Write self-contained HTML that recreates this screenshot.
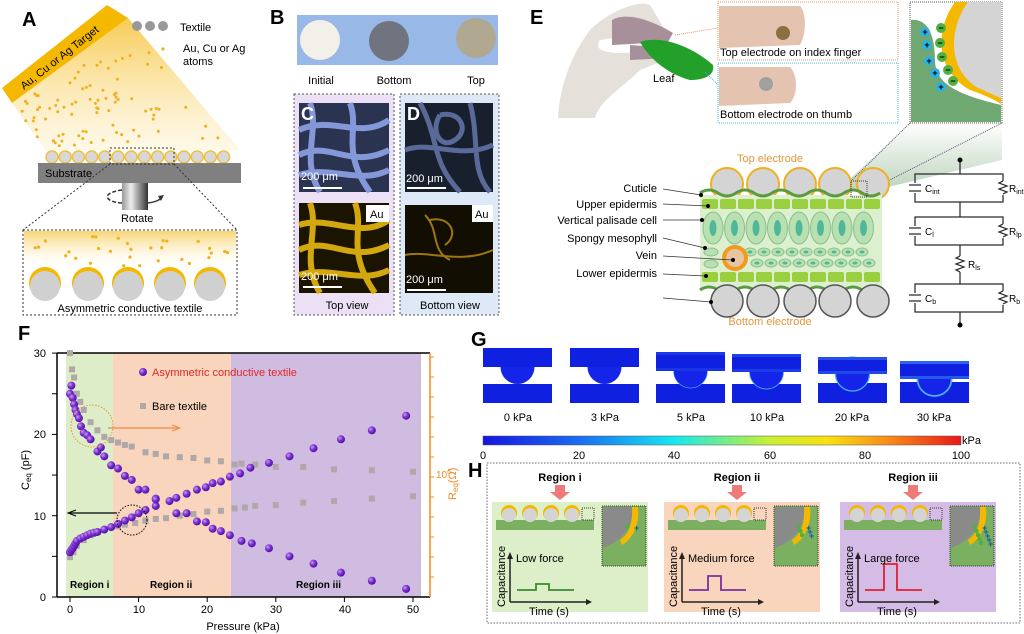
<!DOCTYPE html>
<html><head><meta charset="utf-8"><style>
html,body{margin:0;padding:0;background:#fff}
svg{display:block;font-family:"Liberation Sans",sans-serif}
</style></head><body>
<svg id="s" width="1024" height="634" viewBox="0 0 1024 634" xmlns="http://www.w3.org/2000/svg">
<defs>
<linearGradient id="cone" x1="0" y1="0" x2="0" y2="1"><stop offset="0" stop-color="#f6c234" stop-opacity=".85"/><stop offset="1" stop-color="#fbe8b0" stop-opacity=".3"/></linearGradient>
<linearGradient id="ins" x1="0" y1="0" x2="0" y2="1"><stop offset="0" stop-color="#f8d571"/><stop offset="1" stop-color="#fff" stop-opacity="0"/></linearGradient>
<linearGradient id="shaft" x1="0" y1="0" x2="1" y2="0"><stop offset="0" stop-color="#999"/><stop offset=".35" stop-color="#eee"/><stop offset="1" stop-color="#333"/></linearGradient>
<linearGradient id="cb" x1="0" y1="0" x2="1" y2="0"><stop offset="0" stop-color="#1515e0"/><stop offset=".2" stop-color="#1a6cf0"/><stop offset=".4" stop-color="#16e8f0"/><stop offset=".6" stop-color="#c8f030"/><stop offset=".72" stop-color="#f8e010"/><stop offset=".85" stop-color="#f88a18"/><stop offset="1" stop-color="#e81818"/></linearGradient>
<radialGradient id="pb" cx=".35" cy=".35" r=".7"><stop offset="0" stop-color="#c89af0"/><stop offset=".5" stop-color="#7a2fd0"/><stop offset="1" stop-color="#4a0ea0"/></radialGradient>
<linearGradient id="beam" x1="0" y1="0" x2="0" y2="1"><stop offset="0" stop-color="#fff"/><stop offset="1" stop-color="#6f9f6f"/></linearGradient>
</defs>

<!-- ===== A ===== -->
<text x="22" y="26" font-size="20" font-weight="bold">A</text>
<polygon points="12,103 128,18 240,150 45,150" fill="url(#cone)"/>
<polygon points="2,88 107,5 128,18 12,103" fill="#f5b800"/>
<text x="0" y="0" font-size="11" transform="translate(24,90) rotate(-38)">Au, Cu or Ag Target</text>
<g id="atomsA" fill="#f0b020"></g>
<circle cx="137" cy="26" r="5" fill="#999"/><circle cx="150" cy="26" r="5" fill="#999"/><circle cx="163" cy="26" r="5" fill="#999"/>
<text x="180" y="31" font-size="11">Textile</text>
<circle cx="163" cy="49" r="1.6" fill="#f0b020"/>
<text x="183" y="52" font-size="11">Au, Cu or Ag</text><text x="183" y="65" font-size="11">atoms</text>
<g id="circA"></g>
<rect x="38" y="163" width="203" height="20" fill="#808080"/>
<text x="45" y="177" font-size="11">Substrate</text>
<rect x="110" y="148" width="64" height="16" fill="none" stroke="#333" stroke-dasharray="2,2"/>
<line x1="110" y1="164" x2="23" y2="230" stroke="#333" stroke-dasharray="2,2"/>
<line x1="174" y1="164" x2="237" y2="230" stroke="#333" stroke-dasharray="2,2"/>
<rect x="122" y="183" width="26" height="27" fill="url(#shaft)"/>
<path d="M122,190 C100,193 105,202 122,203" fill="none" stroke="#333" stroke-width="1.5" stroke-dasharray="4,2"/>
<path d="M148,203 C156,202 160,200 162,197" fill="none" stroke="#333" stroke-width="1.5"/><path d="M158,196 L164,195 L161,201Z" fill="#333"/>
<text x="121" y="222" font-size="11">Rotate</text>
<rect x="23" y="230" width="214" height="85" fill="none" stroke="#333" stroke-dasharray="2,2"/>
<rect x="24" y="231" width="212" height="40" fill="url(#ins)"/>
<g id="atomsIns" fill="#f0b020"></g>
<g id="circIns"></g>
<text x="130" y="312" font-size="11" text-anchor="middle">Asymmetric conductive textile</text>

<!-- ===== B ===== -->
<text x="270" y="24" font-size="20" font-weight="bold">B</text>
<rect x="297" y="15" width="201" height="50" fill="#98b8e8"/>
<circle cx="320" cy="40" r="20" fill="#f2f0e8"/>
<circle cx="389" cy="41" r="20" fill="#70747e"/>
<circle cx="476" cy="38" r="20" fill="#b0a890"/>
<text x="321" y="84" font-size="11" text-anchor="middle">Initial</text>
<text x="394" y="84" font-size="11" text-anchor="middle">Bottom</text>
<text x="476" y="84" font-size="11" text-anchor="middle">Top</text>
<rect x="294" y="94" width="100" height="221" fill="#ebe0f5" stroke="#555" stroke-dasharray="2,2"/>
<rect x="400" y="94" width="99" height="221" fill="#dde9f6" stroke="#555" stroke-dasharray="2,2"/>
<rect x="299" y="103" width="90" height="89" fill="#2a3350"/>
<g stroke="#8ea4e8" stroke-width="6" fill="none" opacity=".9">
<path d="M299,130 C330,115 360,140 389,120"/><path d="M299,155 C330,140 350,170 389,150"/><path d="M310,103 C320,130 300,160 320,192"/><path d="M299,175 C330,165 360,185 389,170"/><path d="M350,103 C360,130 340,150 370,192"/></g>
<rect x="299" y="203" width="90" height="90" fill="#1a1400"/>
<g stroke="#e8b810" stroke-width="6" fill="none" opacity=".9">
<path d="M299,225 C330,215 360,240 389,220"/><path d="M299,250 C330,235 350,265 389,245"/><path d="M310,203 C320,230 300,260 320,293"/><path d="M299,275 C330,265 360,285 389,270"/><path d="M355,203 C365,230 345,250 375,293"/></g>
<rect x="405" y="103" width="88" height="89" fill="#18202e"/>
<g stroke="#5a6a98" stroke-width="5" fill="none">
<path d="M420,103 C440,140 430,160 460,192"/><path d="M440,115 C460,110 470,130 455,140 C440,150 430,130 440,115"/><path d="M405,150 C430,140 460,160 493,145"/><path d="M470,103 C480,140 470,170 490,192"/></g>
<rect x="405" y="205" width="88" height="88" fill="#120e02"/>
<g stroke="#c09010" stroke-width="2" fill="none" opacity=".8">
<path d="M425,215 C440,230 430,250 450,260"/><path d="M405,255 C430,250 460,265 493,250"/><path d="M430,220 C450,215 460,235 445,245"/></g>
<text x="301" y="120" font-size="18" font-weight="bold" fill="#fff">C</text>
<text x="407" y="120" font-size="18" font-weight="bold" fill="#fff">D</text>
<rect x="366" y="205" width="23" height="17" fill="#fff"/><text x="370" y="218" font-size="11">Au</text>
<rect x="472" y="205" width="21" height="17" fill="#fff"/><text x="475" y="218" font-size="11">Au</text>
<g font-size="11" fill="#fff"><text x="301" y="180">200 μm</text><text x="406" y="182">200 μm</text><text x="301" y="280">200 μm</text><text x="406" y="283">200 μm</text></g>
<g stroke="#fff" stroke-width="2"><line x1="303" y1="188" x2="342" y2="188"/><line x1="407" y1="188" x2="446" y2="188"/><line x1="303" y1="287" x2="342" y2="287"/><line x1="407" y1="290" x2="446" y2="290"/></g>
<text x="347" y="309" font-size="11" text-anchor="middle">Top view</text>
<text x="450" y="309" font-size="11" text-anchor="middle">Bottom view</text>

<!-- ===== E ===== -->
<text x="530" y="24" font-size="20" font-weight="bold">E</text>
<path d="M558,118 C560,80 575,50 590,30 C610,10 640,0 650,5 L665,30 L600,40 C590,55 620,55 660,50 L660,62 L640,70 C620,90 600,100 595,118 Z" fill="#e6e0da"/>
<path d="M612,20 C630,10 660,25 673,33 L668,42 L612,45Z" fill="#a8909a"/>
<path d="M630,45 L672,48 L670,58 L630,60Z" fill="#a8909a"/>
<path d="M640,42 C660,35 690,45 713,65 C715,75 705,80 690,80 C670,75 650,60 640,42Z" fill="#22a02a"/>
<text x="653" y="82" font-size="11">Leaf</text>
<line x1="675" y1="35" x2="718" y2="28" stroke="#e89060" stroke-dasharray="1,1"/>
<line x1="705" y1="72" x2="718" y2="85" stroke="#40b8d8" stroke-dasharray="1,1"/>
<rect x="718" y="2" width="180" height="58" fill="#fff" stroke="#e89a60" stroke-dasharray="1,1"/>
<path d="M719,6 L800,6 C805,10 808,30 800,45 L719,48Z" fill="#e4c4b0"/>
<circle cx="783" cy="33" r="7" fill="#8a7040"/>
<text x="720" y="56" font-size="11">Top electrode on index finger</text>
<rect x="718" y="63" width="180" height="60" fill="#fff" stroke="#40b8d8" stroke-dasharray="1,1"/>
<path d="M719,67 L790,67 C798,75 798,95 790,103 L719,106Z" fill="#e4c4b0"/>
<circle cx="766" cy="84" r="7" fill="#a0a0a0"/>
<text x="720" y="118" font-size="11">Bottom electrode on thumb</text>
<polygon points="910,123 1002,123 1002,160 875,190 840,188" fill="url(#beam)" opacity=".45"/>
<line x1="910" y1="123" x2="850" y2="182" stroke="#557" stroke-dasharray="1,1"/>
<line x1="1002" y1="123" x2="870" y2="190" stroke="#557" stroke-dasharray="1,1"/>
<rect x="910" y="2" width="92" height="121" fill="#fff" stroke="#555" stroke-dasharray="1,1"/>
<path d="M911,20 C930,18 935,40 935,60 C935,85 960,95 1001,105 L1001,122 L911,122Z" fill="#6fa870"/>
<path d="M955,2 C935,30 935,70 970,90 C985,95 995,100 1001,104 L1001,2Z" fill="#f5b800"/>
<path d="M968,2 C948,30 948,70 978,88 C988,92 995,96 1001,98 L1001,2Z" fill="#d4d4d4"/>
<g font-size="9" font-weight="bold" text-anchor="middle">
<g fill="#30b0e0"><circle cx="925" cy="32" r="5"/><circle cx="927" cy="45" r="5"/><circle cx="929" cy="61" r="5"/><circle cx="935" cy="73" r="5"/><circle cx="941" cy="87" r="5"/></g>
<g fill="#50b040"><circle cx="941" cy="28" r="5"/><circle cx="940" cy="43" r="5"/><circle cx="942" cy="57" r="5"/><circle cx="948" cy="70" r="5"/><circle cx="953" cy="81" r="5"/></g>
<text x="925" y="35">+</text><text x="927" y="48">+</text><text x="929" y="64">+</text><text x="935" y="76">+</text><text x="941" y="90">+</text>
<text x="941" y="31">−</text><text x="940" y="46">−</text><text x="942" y="60">−</text><text x="948" y="73">−</text><text x="953" y="84">−</text></g>
<text x="770" y="162" font-size="11" fill="#e8963a" text-anchor="middle">Top electrode</text>
<g id="topE"></g>
<rect x="700" y="195" width="182" height="93" fill="#dcf0d0"/>
<g id="cells"></g>
<circle cx="735" cy="258" r="13" fill="#f09a20"/><circle cx="735" cy="258" r="9" fill="#e8c4a0"/>
<path d="M700,193 q9,-6 18,0 t18,0 t18,0 t18,0 t18,0 t18,0 t18,0 t18,0 t18,0 t18,0" fill="none" stroke="#5a9a40" stroke-width="3"/>
<path d="M700,290 q9,-6 18,0 t18,0 t18,0 t18,0 t18,0 t18,0 t18,0 t18,0 t18,0 t18,0" fill="none" stroke="#5a9a40" stroke-width="3"/>
<rect x="851" y="181" width="16" height="16" fill="none" stroke="#333" stroke-dasharray="1,1"/>
<g id="botE"></g>
<text x="770" y="325" font-size="11" fill="#e8963a" text-anchor="middle">Bottom electrode</text>
<g font-size="11" text-anchor="end">
<text x="657" y="192">Cuticle</text><text x="657" y="208">Upper epidermis</text><text x="657" y="224">Vertical palisade cell</text><text x="657" y="242">Spongy mesophyll</text><text x="657" y="259">Vein</text><text x="657" y="277">Lower epidermis</text></g>
<g stroke="#333" stroke-width=".8">
<line x1="663" y1="189" x2="701" y2="195"/><line x1="663" y1="204" x2="708" y2="206"/><line x1="663" y1="220" x2="702" y2="220"/><line x1="663" y1="238" x2="705" y2="248"/><line x1="663" y1="256" x2="732" y2="260"/><line x1="663" y1="274" x2="706" y2="276"/><line x1="663" y1="298" x2="711" y2="302"/></g>
<g fill="#000"><circle cx="701" cy="195" r="2"/><circle cx="708" cy="206" r="2"/><circle cx="702" cy="220" r="2"/><circle cx="705" cy="248" r="2"/><circle cx="733" cy="260" r="2"/><circle cx="706" cy="276" r="2"/><circle cx="711" cy="302" r="2"/></g>
<g stroke="#222" stroke-width="1.2" fill="none">
<line x1="960" y1="160" x2="960" y2="174"/>
<rect x="915" y="174" width="88" height="28"/><line x1="960" y1="202" x2="960" y2="217"/>
<rect x="915" y="217" width="88" height="28"/><line x1="960" y1="245" x2="960" y2="256"/>
<path d="M960,256 l-4,2 l8,3 l-8,3 l8,3 l-8,3 l4,2"/><line x1="960" y1="272" x2="960" y2="284"/>
<rect x="915" y="284" width="88" height="28"/><line x1="960" y1="312" x2="960" y2="325"/>
</g>
<g fill="#fff"><rect x="910" y="183" width="10" height="10"/><rect x="910" y="226" width="10" height="10"/><rect x="910" y="293" width="10" height="10"/><rect x="998" y="181" width="10" height="14"/><rect x="998" y="224" width="10" height="14"/><rect x="998" y="291" width="10" height="14"/></g>
<g stroke="#222" stroke-width="1.2" fill="none">
<line x1="909" y1="185" x2="921" y2="185"/><line x1="909" y1="191" x2="921" y2="191"/>
<line x1="909" y1="228" x2="921" y2="228"/><line x1="909" y1="234" x2="921" y2="234"/>
<line x1="909" y1="295" x2="921" y2="295"/><line x1="909" y1="301" x2="921" y2="301"/>
<path d="M1003,181 l-4,2 l8,3 l-8,3 l8,3 l-4,2"/><path d="M1003,224 l-4,2 l8,3 l-8,3 l8,3 l-4,2"/><path d="M1003,291 l-4,2 l8,3 l-8,3 l8,3 l-4,2"/></g>
<circle cx="960" cy="160" r="2.5"/><circle cx="960" cy="325" r="2.5"/>
<g font-size="10"><text x="925" y="192">C<tspan font-size="7" dy="2">int</tspan></text><text x="1009" y="192">R<tspan font-size="7" dy="2">int</tspan></text>
<text x="925" y="235">C<tspan font-size="7" dy="2">l</tspan></text><text x="1009" y="235">R<tspan font-size="7" dy="2">lp</tspan></text>
<text x="968" y="268">R<tspan font-size="7" dy="2">ls</tspan></text>
<text x="925" y="302">C<tspan font-size="7" dy="2">b</tspan></text><text x="1009" y="302">R<tspan font-size="7" dy="2">b</tspan></text></g>

<!-- ===== F ===== -->
<text x="18" y="340" font-size="20" font-weight="bold">F</text>
<rect x="66" y="353" width="47" height="244" fill="#dcedc8"/>
<rect x="113" y="353" width="118" height="244" fill="#f8d5bc"/>
<rect x="231" y="353" width="190" height="244" fill="#d0bce0"/>
<line x1="57" y1="353" x2="430" y2="353" stroke="#000" stroke-width="1.5"/>
<line x1="57" y1="597" x2="430" y2="597" stroke="#000" stroke-width="1.5"/>
<line x1="57" y1="353" x2="57" y2="597" stroke="#000" stroke-width="1.5"/>
<line x1="430" y1="353" x2="430" y2="597" stroke="#f08a20" stroke-width="1.5"/>
<g id="rticks" stroke="#f08a20"></g>
<g id="fticks" stroke="#000"></g>
<g font-size="11" text-anchor="end"><text x="46" y="357">30</text><text x="46" y="438">20</text><text x="46" y="520">10</text><text x="46" y="601">0</text></g>
<g font-size="11" text-anchor="middle"><text x="70" y="613">0</text><text x="139" y="613">10</text><text x="207" y="613">20</text><text x="276" y="613">30</text><text x="345" y="613">40</text><text x="413" y="613">50</text></g>
<text x="243" y="630" font-size="11" text-anchor="middle">Pressure (kPa)</text>
<text x="0" y="0" font-size="11" transform="translate(29,490) rotate(-90)">C<tspan font-size="8" dy="2">eq</tspan><tspan dy="-2"> (pF)</tspan></text>
<text x="436" y="478" font-size="10" fill="#f08a20">10<tspan font-size="7" dy="-4">6</tspan></text>
<text x="0" y="0" font-size="11" fill="#f08a20" transform="translate(456,500) rotate(-90)">R<tspan font-size="8" dy="2">eq</tspan><tspan dy="-2">(Ω)</tspan></text>
<g id="pts"></g>
<circle cx="143" cy="372" r="4" fill="url(#pb)"/><text x="152" y="376" font-size="11" fill="#e02828">Asymmetric conductive textile</text>
<rect x="140" y="403" width="6" height="6" fill="#b0a8a8"/><text x="152" y="410" font-size="11">Bare textile</text>
<circle cx="92" cy="426" r="21" fill="none" stroke="#e8963a" stroke-dasharray="1.5,1.5"/>
<line x1="108" y1="428" x2="178" y2="428" stroke="#f08a40" stroke-width="1.2"/><path d="M172,425 L180,428 L172,431" fill="none" stroke="#f08a40"/>
<circle cx="132" cy="520" r="15" fill="none" stroke="#000" stroke-dasharray="1.5,1.5"/>
<line x1="70" y1="513" x2="117" y2="513" stroke="#000" stroke-width="1.2"/><path d="M76,510 L68,513 L76,516" fill="none" stroke="#000"/>
<g font-size="10" font-weight="bold"><text x="70" y="588">Region i</text><text x="150" y="588">Region ii</text><text x="296" y="588">Region iii</text></g>

<!-- ===== G ===== -->
<text x="471" y="346" font-size="20" font-weight="bold">G</text>
<g id="sims"></g>
<g font-size="11" text-anchor="middle"><text x="518" y="421">0 kPa</text><text x="605" y="421">3 kPa</text><text x="691" y="421">5 kPa</text><text x="767" y="421">10 kPa</text><text x="852" y="421">20 kPa</text><text x="934" y="421">30 kPa</text></g>
<rect x="483" y="436" width="478" height="9" fill="url(#cb)" stroke="#555" stroke-width=".5"/>
<text x="962" y="444" font-size="11">kPa</text>
<g font-size="11" text-anchor="middle"><text x="483" y="459">0</text><text x="579" y="459">20</text><text x="674" y="459">40</text><text x="770" y="459">60</text><text x="865" y="459">80</text><text x="961" y="459">100</text></g>

<!-- ===== H ===== -->
<text x="468" y="477" font-size="20" font-weight="bold">H</text>
<rect x="487" y="463" width="533" height="160" fill="none" stroke="#666" stroke-dasharray="1.5,1.5"/>
<g id="hp"></g>
</svg>
<script>
const NS="http://www.w3.org/2000/svg";
function el(p,t,a){const e=document.createElementNS(NS,t);for(const k in a)e.setAttribute(k,a[k]);p.appendChild(e);return e;}
const $=id=>document.getElementById(id);
let seed=7;const rnd=()=>{seed=(seed*9301+49297)%233280;return seed/233280;};
// atoms inside cone
for(let i=0;i<85;i++){const u=rnd(),v=0.08+rnd()*0.85;
 const tx=12+u*116,ty=103-u*85,bx=45+u*195,by=150;
 el($("atomsA"),"circle",{cx:tx+(bx-tx)*v,cy:ty+(by-ty)*v,r:1.5});}
for(let i=0;i<14;i++)el($("circA"),"circle",{cx:52+i*13.2,cy:157,r:6,fill:"#d8d8d8",stroke:"#f0c040","stroke-width":1.5});
for(let i=0;i<30;i++)el($("atomsIns"),"circle",{cx:28+rnd()*205,cy:236+rnd()*30,r:1.6});
[45,88,128,170,210].forEach(x=>{el($("circIns"),"circle",{cx:x,cy:283,r:16,fill:"#f5b800"});el($("circIns"),"circle",{cx:x,cy:286,r:15,fill:"#d0d0d0"});});
[727,763,800,835,873].forEach(x=>{el($("topE"),"circle",{cx:x,cy:184,r:16,fill:"#d4d4d4",stroke:"#f0b020","stroke-width":2});el($("botE"),"circle",{cx:x,cy:301,r:16,fill:"#d4d4d4",stroke:"#555","stroke-width":1.5});});
const c=$("cells");
for(let i=0;i<10;i++){el(c,"rect",{x:702+i*18,y:199,width:16,height:10,rx:2,fill:"#9ad040"});el(c,"rect",{x:702+i*18,y:272,width:16,height:10,rx:2,fill:"#9ad040"});}
for(let i=0;i<8;i++){const x=713+i*21.5;el(c,"ellipse",{cx:x,cy:228,rx:10,ry:16,fill:"#b8e0b0",stroke:"#8cc08c"});el(c,"ellipse",{cx:x,cy:228,rx:3.5,ry:8,fill:"#50b898"});}
for(let r=0;r<2;r++)for(let i=0;i<9;i++){const x=750+i*14+(r?7:0),y=252+r*11;el(c,"ellipse",{cx:x,cy:y,rx:6,ry:4,fill:"#b8e0b0",stroke:"#8cc08c"});el(c,"ellipse",{cx:x,cy:y,rx:2.5,ry:1.5,fill:"#50b898"});}
el(c,"ellipse",{cx:711,cy:252,rx:7,ry:4,fill:"#b8e0b0",stroke:"#8cc08c"});el(c,"ellipse",{cx:711,cy:264,rx:7,ry:4,fill:"#b8e0b0",stroke:"#8cc08c"});
for(let v=0;v<=30;v+=5){const y=597-v*8.13;el($("fticks"),"line",{x1:52,y1:y,x2:57,y2:y});}
for(let p=0;p<=50;p+=10){const x=70+p*6.86;el($("fticks"),"line",{x1:x,y1:597,x2:x,y2:602});}
for(let i=0;i<12;i++){const y=357+i*20;el($("rticks"),"line",{x1:430,y1:y,x2:434,y2:y});}
const X=p=>70+p*6.86,Y=v=>597-v*8.13;
const gd=[[0,30],[.3,28],[.6,27],[1,25],[1.5,24],[2,23],[3,21.5],[4,20.5],[5,19.7],[6,19.3],[7,19],[8,18.7],[9,18.5],[11,17.8],[12.5,17.6],[14,17.3],[16,17.2],[18,17.1],[20,16.8],[22,16.7],[24,16.3],[25,16.4],[27,16.3],[30,16],[34,16],[38.5,15.7],[44,15.6],[50,15.4]];
const gu=[[0,4.9],[.5,5.5],[1,6.3],[2,7],[3,7.6],[4,8],[5,8.3],[6,8.6],[7,8.7],[8,8.9],[9.5,9.1],[11,9.4],[12.5,9.6],[14,9.7],[16,10],[18,10.2],[20,10.5],[22,10.6],[24,10.9],[25.5,11],[27,11.2],[30,11.3],[34,11.6],[38.5,11.8],[44,12.1],[50,12.4]];
gd.concat(gu).forEach(([p,v])=>el($("pts"),"rect",{x:X(p)-3,y:Y(v)-3,width:6,height:6,fill:"#b0a8a8"}));
const pd=[[0,25],[.2,26],[.4,24.5],[.6,23.7],[.8,23],[1,22.5],[1.3,22],[1.6,21],[2,20.2],[2.5,19.9],[3,19.4],[4,17.9],[4.5,18.4],[5,17.3],[6,16.2],[7,15.8],[8,14.9],[9,14.4],[10,13.2],[11,13.2],[12.5,12.1],[15.5,10.3],[17,10.3],[18.5,9.3],[19.8,9.2],[20.8,8.4],[22,8.1],[23.3,7.6],[25,6.9],[26.5,6.6],[29,6],[32,5],[35.5,4.1],[39.5,3],[44,2],[49,1]];
const pu=[[0,5.5],[.2,5.8],[.4,6],[.6,6.3],[.8,6.6],[1,6.9],[1.5,7.2],[2,7.4],[2.5,7.6],[3,7.8],[3.5,7.9],[4,8],[5,8.3],[6,8.6],[7,9],[8,9.4],[9,9.8],[10,10.3],[11,10.7],[12.5,11.2],[12.5,12],[14.5,11.8],[15.5,12.2],[17,12.7],[18.5,13.2],[19.8,13.5],[20.8,14],[22,14.2],[23.3,14.8],[24.8,15.2],[26.3,15.9],[29,16.5],[32,17.3],[35.5,18.3],[39.5,19.4],[44,20.5],[49,22.3]];
pd.concat(pu).forEach(([p,v])=>el($("pts"),"circle",{cx:X(p),cy:Y(v),r:4,fill:"url(#pb)"}));
// G sims
[[483,348,367,384,0],[570,348,367,384,.05],[656,352,371,384,.25],[732,354,372,384,.35],[818,357,374,383,.5],[900,361,379,382,.7]].forEach(([x,top,tb,bt,h])=>{
 const g=$("sims"),w=69,cx=x+34.5;
 el(g,"rect",{x:x,y:bt,width:w,height:403-bt,fill:"#1020e0"});
 el(g,"circle",{cx:cx,cy:tb,r:17,fill:"#1424e8",stroke:h>0.1?"#50b0ff":"none","stroke-width":h*2.5});
 el(g,"rect",{x:x,y:top,width:w,height:tb-top,fill:"#1020e0"});
 if(h>0.1){el(g,"rect",{x:x,y:top,width:w,height:3,fill:"#3a80f8",opacity:h});el(g,"rect",{x:x,y:tb-3,width:w,height:3,fill:"#3070f0",opacity:h});}
});
const hp=$("hp");
[[492,"#dcefc8","Region i","Low force","#3a8a30",6,1],[664,"#f8d5bc","Region ii","Medium force","#7a30a0",14,2],[840,"#d4bce6","Region iii","Large force","#e02030",26,3]].forEach(([x,bg,r,f,col,hh,n])=>{
 const cx=x+78-(n==1?10:5);
 el(hp,"rect",{x:x,y:502,width:156,height:110,fill:bg});
 const t=el(hp,"text",{x:cx,y:481,"font-size":11,"font-weight":"bold","text-anchor":"middle"});t.textContent=r;
 el(hp,"polygon",{points:`${cx-5},485 ${cx+5},485 ${cx+5},492 ${cx+10},492 ${cx},500 ${cx-10},492 ${cx-5},492`,fill:"#f07a7a"});
 el(hp,"rect",{x:x+4,y:520,width:98,height:10,fill:"#7ab060"});
 for(let i=0;i<4;i++){el(hp,"circle",{cx:x+17+i*21,cy:513,r:8,fill:"#f5b800"});el(hp,"circle",{cx:x+17+i*21,cy:515,r:7,fill:"#d4d4d4"});}
 el(hp,"rect",{x:x+90,y:508,width:12,height:12,fill:"none",stroke:"#333","stroke-dasharray":"1,1"});
 el(hp,"rect",{x:x+110,y:506,width:44,height:60,fill:"#7ab060",stroke:"#333","stroke-dasharray":"1,1"});
 el(hp,"path",{d:`M${x+111},507 L${x+140},507 C${x+142},525 ${x+132},540 ${x+111},548Z`,fill:"#8a8a8a"});
 el(hp,"path",{d:`M${x+140},507 L${x+146},507 C${x+148},525 ${x+140},540 ${x+130},545 L${x+128},540 C${x+136},535 ${x+141},525 ${x+140},507Z`,fill:"#f5b800"});
 for(let i=0;i<n*2-1;i++){el(hp,"circle",{cx:x+135+i*1.5,cy:527+i*4,r:2.2,fill:"#50b040"});const p=el(hp,"text",{x:x+142+i*1.5,y:531+i*4,"font-size":9,"font-weight":"bold",fill:"#1060a0"});p.textContent="+";}
 el(hp,"line",{x1:x+18,y1:602,x2:x+98,y2:602,stroke:"#222","stroke-width":1.5});
 el(hp,"line",{x1:x+18,y1:602,x2:x+18,y2:555,stroke:"#222","stroke-width":1.5});
 el(hp,"path",{d:`M${x+15},559 L${x+18},552 L${x+21},559Z`,fill:"#222"});
 el(hp,"path",{d:`M${x+94},599 L${x+100},602 L${x+94},605Z`,fill:"#222"});
 const by=590;el(hp,"path",{d:`M${x+25},${by} L${x+44},${by} L${x+44},${by-hh} L${x+57},${by-hh} L${x+57},${by} L${x+82},${by}`,fill:"none",stroke:col,"stroke-width":1.8});
 const ft=el(hp,"text",{x:x+24,y:562,"font-size":11});ft.textContent=f;
 const tt=el(hp,"text",{x:x+57,y:615,"font-size":11,"text-anchor":"middle"});tt.textContent="Time (s)";
 const ct=el(hp,"text",{x:0,y:0,"font-size":11,transform:`translate(${x+13},607) rotate(-90)`});ct.textContent="Capacitance";
});
</script>
</body></html>
